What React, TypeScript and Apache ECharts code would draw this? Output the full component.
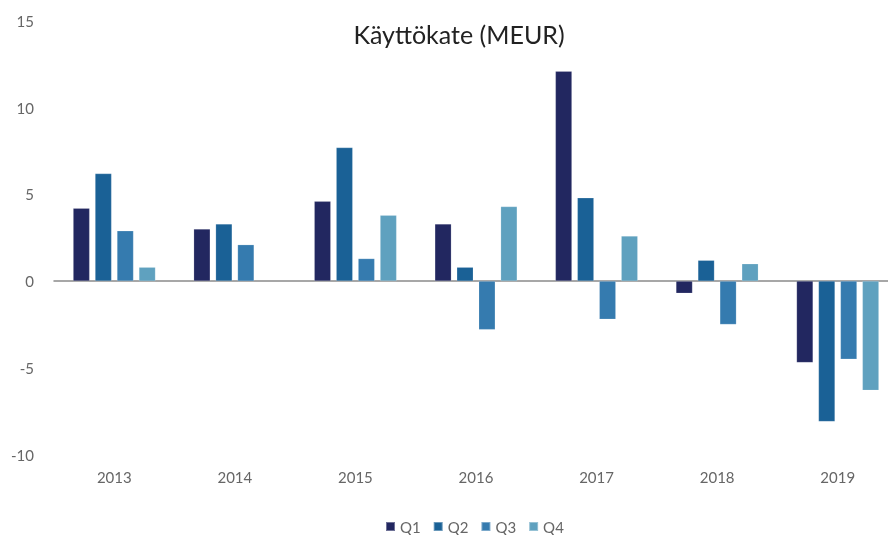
import React, { useEffect, useRef } from "react";
import * as echarts from "echarts";

const years = ["2013", "2014", "2015", "2016", "2017", "2018", "2019"];
const quarters = ["Q1", "Q2", "Q3", "Q4"];
const q1 = [4.2, 3.0, 4.6, 3.3, 12.1, -0.7, -4.7];
const q2 = [6.2, 3.3, 7.7, 0.8, 4.8, 1.2, -8.1];
const q3 = [2.9, 2.1, 1.3, -2.8, -2.2, -2.5, -4.5];
const q4 = [0.8, null, 3.8, 4.3, 2.6, 1.0, -6.3];
const seriesData = [q1, q2, q3, q4];
const colors = ["#222760", "#1a6196", "#357baf", "#5fa1bf"];

export default function App() {
  const ref = useRef<HTMLDivElement>(null);
  useEffect(() => {
    if (!ref.current) return;
    const chart = echarts.init(ref.current, null, { renderer: "svg" });
    chart.setOption({
      animation: false,
      textStyle: { fontFamily: "Lato" },
      title: {
        text: "Käyttökate (MEUR)",
        left: 454,
        textAlign: "center",
        top: 16,
        textStyle: { fontFamily: "Lato", fontSize: 25, fontWeight: "normal", color: "#222222" },
      },
      legend: {
        data: quarters,
        left: 380,
        top: 514,
        itemWidth: 9,
        itemHeight: 9,
        itemGap: 12,
        icon: "rect",
        textStyle: { fontFamily: "Lato", fontSize: 15, color: "#666666" },
      },
      grid: { left: 54, top: 21, width: 844, height: 433.5, containLabel: false },
      xAxis: {
        type: "category",
        data: years,
        axisLine: { onZero: true, lineStyle: { color: "#8a8a8a", width: 1.5 } },
        axisTick: { show: false },
        axisLabel: {
          interval: 0,
          margin: 15,
          fontFamily: "Lato",
          fontSize: 15,
          color: "#666666",
        },
        position: "bottom",
      },
      yAxis: {
        type: "value",
        min: -10,
        max: 15,
        interval: 5,
        axisLine: { show: false },
        axisTick: { show: false },
        splitLine: { show: false },
        axisLabel: { fontFamily: "Lato", fontSize: 15, color: "#666666", margin: 20 },
      },
      series: seriesData.map((d, i) => ({
        name: quarters[i],
        type: "bar",
        data: d,
        barWidth: 16.5,
        barGap: "33%",
        itemStyle: { color: colors[i], borderColor: "rgba(255,255,255,0.35)", borderWidth: 0.5 },
      })),
    });
    return () => chart.dispose();
  }, []);
  return <div ref={ref} style={{ position: "fixed", left: 0, top: 0, width: 900, height: 535 }} />;
}
